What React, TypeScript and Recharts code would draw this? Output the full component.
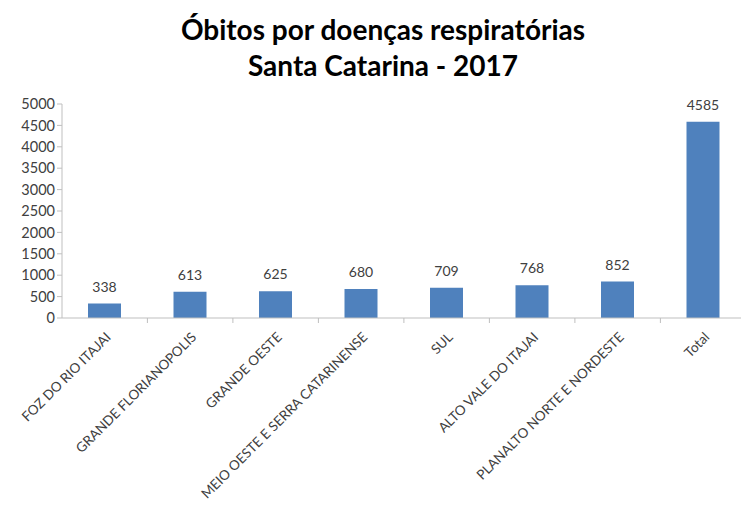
import React from "react";
import { Bar, BarChart, LabelList, XAxis, YAxis } from "recharts";

const REGIONS = [
  "FOZ DO RIO ITAJAI",
  "GRANDE FLORIANOPOLIS",
  "GRANDE OESTE",
  "MEIO OESTE E SERRA CATARINENSE",
  "SUL",
  "ALTO VALE DO ITAJAI",
  "PLANALTO NORTE E NORDESTE",
  "Total",
];
const DEATHS = [338, 613, 625, 680, 709, 768, 852, 4585];
const Y_TICKS = [0, 500, 1000, 1500, 2000, 2500, 3000, 3500, 4000, 4500, 5000];

const data = REGIONS.map((region, i) => ({ region, deaths: DEATHS[i] }));

const FONT = "Lato, 'Open Sans', sans-serif";
const BAND = 85.3;

function RegionTick({ x, y, payload }: { x?: number; y?: number; payload?: { value: string } }) {
  if (x == null || y == null || !payload) return null;
  const tx = x + 7;
  const ty = y + 12;
  return (
    <g>
      <line x1={x + BAND / 2} y1={y - 8} x2={x + BAND / 2} y2={y - 3} stroke="#bfbfbf" />
      <text
        x={tx}
        y={ty}
        textAnchor="end"
        transform={`rotate(-45 ${tx} ${ty})`}
        fontSize={13.5}
        fill="#404040"
        fontFamily={FONT}
      >
        {payload.value}
      </text>
    </g>
  );
}

export default function App() {
  return (
    <div style={{ position: "absolute", left: 0, top: 0, width: 741, height: 511, background: "#fff" }}>
      <div
        style={{
          position: "absolute",
          left: 0,
          top: 11,
          width: 766,
          textAlign: "center",
          fontFamily: FONT,
          fontWeight: 700,
          fontSize: 28,
          lineHeight: "36px",
          color: "#000",
        }}
      >
        <div>Óbitos por doenças respiratórias</div>
        <div>Santa Catarina - 2017</div>
      </div>
      <BarChart
        width={741}
        height={511}
        data={data}
        margin={{ top: 104, right: -5, bottom: 13, left: 6 }}
        barCategoryGap={0}
      >
        <XAxis
          dataKey="region"
          interval={0}
          height={180}
          axisLine={{ stroke: "#bfbfbf" }}
          tickLine={false}
          tick={<RegionTick />}
        />
        <YAxis
          domain={[0, 5000]}
          ticks={Y_TICKS}
          width={56}
          interval={0}
          axisLine={{ stroke: "#bfbfbf" }}
          tickLine={{ stroke: "#bfbfbf" }}
          tickSize={5}
          tick={{ fontSize: 14.5, fill: "#404040", fontFamily: FONT }}
        />
        <Bar dataKey="deaths" fill="#4f81bd" barSize={33} isAnimationActive={false}>
          <LabelList
            dataKey="deaths"
            position="top"
            offset={12}
            fontSize={14}
            fill="#404040"
            fontFamily={FONT}
          />
        </Bar>
      </BarChart>
    </div>
  );
}
